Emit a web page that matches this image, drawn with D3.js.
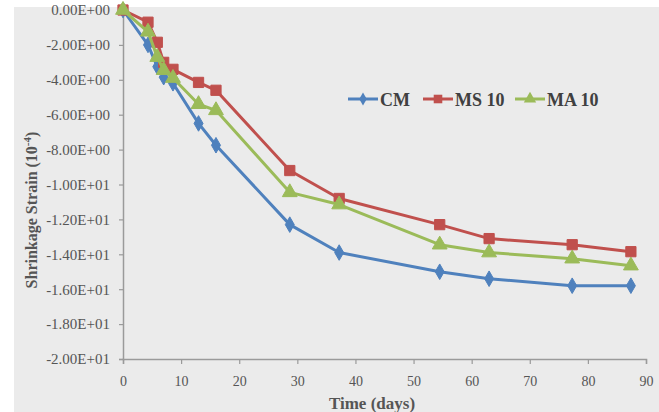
<!DOCTYPE html>
<html>
<head>
<meta charset="utf-8">
<script src="https://cdn.jsdelivr.net/npm/d3@7"></script>
<style>
  html, body { margin: 0; padding: 0; background: #ffffff; }
  svg { display: block; }
</style>
</head>
<body>
<svg id="chart" width="659" height="412"></svg>
<script>
// ---- data ----
const days = [0, 4.3, 5.9, 7.0, 8.6, 13.0, 16.0, 28.7, 37.2, 54.5, 63.0, 77.3, 87.4];
const cmValues   = [0, -2.0, -3.25, -3.85, -4.2, -6.5, -7.75, -12.3, -13.9, -15.0, -15.4, -15.8, -15.8];
const ms10Values = [0, -0.7, -1.85, -3.0, -3.4, -4.15, -4.6, -9.2, -10.8, -12.3, -13.1, -13.45, -13.85];
const ma10Values = [0, -1.25, -2.7, -3.45, -3.9, -5.4, -5.75, -10.45, -11.15, -13.45, -13.9, -14.25, -14.65];
const seriesNames = ["CM", "MS 10", "MA 10"];
const xTicks = [0, 10, 20, 30, 40, 50, 60, 70, 80, 90];
const yTicks = [0, -2, -4, -6, -8, -10, -12, -14, -16, -18, -20];
const yTickLabels = ["0.00E+00", "-2.00E+00", "-4.00E+00", "-6.00E+00", "-8.00E+00", "-1.00E+01",
                     "-1.20E+01", "-1.40E+01", "-1.60E+01", "-1.80E+01", "-2.00E+01"];

const colors = ["#4f81bd", "#c0504d", "#9bbb59"];
const markers = [d3.symbolDiamond, d3.symbolSquare, d3.symbolTriangle];
const markerSizes = [70, 105, 95];
const FONT = "'Liberation Serif', 'Times New Roman', Times, serif";

const svg = d3.select("#chart");
const W = 659, H = 412;

// background panel
svg.append("rect").attr("x", 14).attr("y", 7).attr("width", W - 14).attr("height", H - 7)
  .attr("fill", "#ebebeb");

const x = d3.scaleLinear().domain([0, 90]).range([123, 646]);
const y = d3.scaleLinear().domain([-20, 0]).range([359, 10]);

const axisColor = "#9a9a9a";
const tickColor = "#555555";

// y axis
const yAxis = svg.append("g").attr("transform", "translate(123,0)")
  .call(d3.axisLeft(y).tickValues(yTicks).tickSize(4).tickPadding(9)
    .tickFormat((d, i) => yTickLabels[i]));
yAxis.select(".domain").attr("stroke", axisColor).attr("stroke-width", 1.5);
yAxis.selectAll(".tick line").attr("stroke", axisColor).attr("stroke-width", 1.2);
yAxis.selectAll(".tick text").attr("fill", tickColor)
  .style("font-family", FONT).style("font-size", "15px");

// x axis
const xAxis = svg.append("g").attr("transform", "translate(0,359)")
  .call(d3.axisBottom(x).tickValues(xTicks).tickSize(5).tickPadding(12).tickFormat(d3.format("d")));
xAxis.select(".domain").attr("stroke", axisColor).attr("stroke-width", 1.5);
xAxis.selectAll(".tick line").attr("stroke", axisColor).attr("stroke-width", 1.2);
xAxis.selectAll(".tick text").attr("fill", tickColor)
  .style("font-family", FONT).style("font-size", "14px");

// axis titles
svg.append("text").attr("x", 372).attr("y", 409).attr("text-anchor", "middle")
  .style("font-family", FONT).style("font-size", "17px").style("font-weight", "bold")
  .attr("fill", "#555555").text("Time (days)");

const yt = svg.append("text").attr("transform", "translate(37,210) rotate(-90)")
  .attr("text-anchor", "middle")
  .style("font-family", FONT).style("font-size", "16px").style("font-weight", "bold")
  .attr("fill", "#555555");
yt.append("tspan").text("Shrinkage Strain (10");
yt.append("tspan").style("font-size", "11px").attr("dy", -6).text("-4");
yt.append("tspan").attr("dy", 6).text(")");

// series
const allValues = [cmValues, ms10Values, ma10Values];
const line = d3.line().x(d => x(d[0])).y(d => y(d[1]));

allValues.forEach((vals, si) => {
  const pts = days.map((d, i) => [d, vals[i]]);
  const g = svg.append("g");
  g.append("path").datum(pts).attr("d", line).attr("fill", "none")
    .attr("stroke", colors[si]).attr("stroke-width", 3).attr("stroke-linejoin", "round");
  g.selectAll("path.m").data(pts).enter().append("path").attr("class", "m")
    .attr("transform", d => `translate(${x(d[0])},${y(d[1])})`)
    .attr("d", d3.symbol().type(markers[si]).size(markerSizes[si]))
    .attr("fill", colors[si]).attr("stroke", colors[si]).attr("stroke-width", 1);
});

// legend
const legendX = [348, 423, 515];
const legendY = 99;
seriesNames.forEach((name, i) => {
  const g = svg.append("g");
  g.append("line").attr("x1", legendX[i]).attr("x2", legendX[i] + 30)
    .attr("y1", legendY).attr("y2", legendY).attr("stroke", colors[i]).attr("stroke-width", 3);
  g.append("path").attr("transform", `translate(${legendX[i] + 15},${legendY})`)
    .attr("d", d3.symbol().type(markers[i]).size(markerSizes[i] * 0.7))
    .attr("fill", colors[i]);
  g.append("text").attr("x", legendX[i] + 32).attr("y", legendY + 7)
    .style("font-family", FONT).style("font-size", "18px").style("font-weight", "bold")
    .attr("fill", "#404040").text(name);
});
</script>
</body>
</html>
